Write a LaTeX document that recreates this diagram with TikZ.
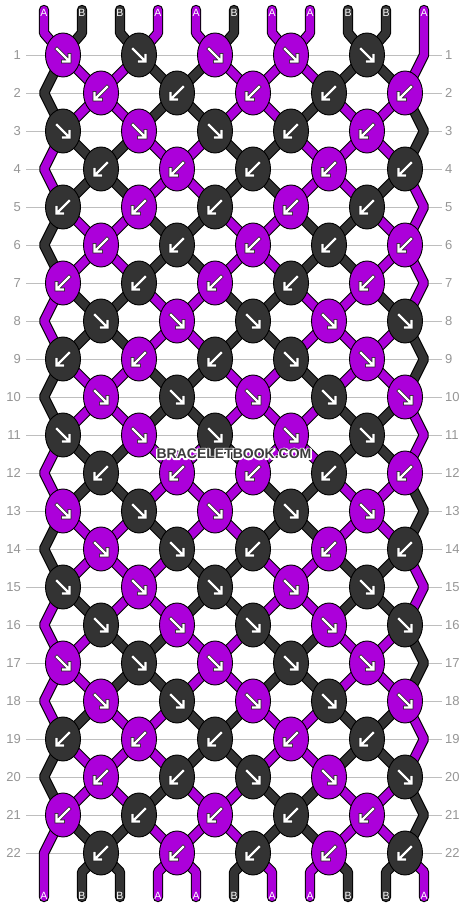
\documentclass[tikz,border=0pt]{standalone}
\usepackage{fontspec}
\setmainfont{Liberation Sans}
\usetikzlibrary{shapes.geometric}
\definecolor{kA}{RGB}{172,0,218}
\definecolor{kB}{RGB}{51,51,51}
\definecolor{lblgray}{RGB}{150,150,150}
\definecolor{rulegray}{RGB}{190,190,190}
\definecolor{wmdark}{RGB}{60,60,60}
\tikzset{
  strandout/.style={line width=10.4pt, draw=black, line join=bevel, line cap=round},
  strandfill/.style={line width=8.2pt, line join=bevel, line cap=round},
  knot/.style={ellipse, draw=black, line width=0.9pt, minimum width=35pt, minimum height=44pt, inner sep=0pt},
  arrout/.style={draw=black!85, line width=3.8pt, line cap=rect, line join=miter},
  arrin/.style={draw=white, line width=2.3pt, line cap=rect, line join=miter},
  arrR/.pic={
    \draw[arrout] (-6,-6) -- (6,6) (0,6.5) -- (6.5,6.5) -- (6.5,0);
    \draw[arrin] (-6,-6) -- (6,6) (0,6.5) -- (6.5,6.5) -- (6.5,0);
  },
  arrL/.pic={
    \draw[arrout] (6,-6) -- (-6,6) (0,6.5) -- (-6.5,6.5) -- (-6.5,0);
    \draw[arrin] (6,-6) -- (-6,6) (0,6.5) -- (-6.5,6.5) -- (-6.5,0);
  },
  rowlab/.style={text=lblgray, font=\fontsize{13}{13}\selectfont, inner sep=0pt},
  endlab/.style={text=white, font=\fontsize{10.5}{10.5}\selectfont, inner sep=0pt},
  rowrule/.style={draw=rulegray, line width=1pt},
  wmtext/.style={text=wmdark, font=\fontsize{14}{14}\selectfont\bfseries, inner sep=0pt}
}
\begin{document}
\begin{tikzpicture}[x=1pt,y=-1pt,
  declare function={kx(\t)=(\t<10)*(63+38*\t)+(\t==10)*424+(\t>10)*(\t<21)*(823-38*\t)+(\t==21)*44;}]
\useasboundingbox (0,0) rectangle (468,908);
\fill[white] (0,0) rectangle (468,908);
% row rules and numbers
\foreach \r in {1,...,22} {
  \pgfmathsetmacro\ry{55+38*(\r-1)}
  \draw[rowrule] (26,\ry) -- (442,\ry);
  \node[rowlab, anchor=east] (ll\r) at (21,\ry) {\r};
  \node[rowlab, anchor=west] (lr\r) at (445,\ry) {\r};
}
% strand outlines
\foreach \j/\cl in {1/A,2/B,3/B,4/A,5/A,6/B,7/A,8/A,9/B,10/B,11/A} {
  \pgfmathsetmacro\xj{44+38*(\j-1)}
  \pgfmathtruncatemacro\tz{mod(\j,2)*(\j-1)+(1-mod(\j,2))*(22-\j)}
  \draw[strandout] (\xj,10) -- (\xj,33)
    \foreach \r in {1,...,22} { -- ({kx(mod(\tz+\r-1,22))},{55+38*(\r-1)}) }
    -- (\xj,872) -- (\xj,897);
}
% strand fills
\foreach \j/\cl in {1/A,2/B,3/B,4/A,5/A,6/B,7/A,8/A,9/B,10/B,11/A} {
  \pgfmathsetmacro\xj{44+38*(\j-1)}
  \pgfmathtruncatemacro\tz{mod(\j,2)*(\j-1)+(1-mod(\j,2))*(22-\j)}
  \draw[strandfill, draw=k\cl] (\xj,10) -- (\xj,33)
    \foreach \r in {1,...,22} { -- ({kx(mod(\tz+\r-1,22))},{55+38*(\r-1)}) }
    -- (\xj,872) -- (\xj,897);
  \node[endlab] (top\j) at (\xj,12.5) {\cl};
  \node[endlab] (bot\j) at (\xj,896) {\cl};
}
% knots
\foreach \r/\ks in {
  1/{A/R,B/R,A/R,A/R,B/R},
  2/{A/L,B/L,A/L,B/L,A/L},
  3/{B/R,A/R,B/R,B/L,A/L},
  4/{B/L,A/L,B/L,A/L,B/L},
  5/{B/L,A/L,B/L,A/L,B/L},
  6/{A/L,B/L,A/L,B/L,A/L},
  7/{A/L,B/L,A/L,B/L,A/L},
  8/{B/R,A/R,B/R,A/R,B/R},
  9/{B/L,A/L,B/L,B/R,A/R},
  10/{A/R,B/R,A/R,B/R,A/R},
  11/{B/R,A/R,B/R,A/R,B/R},
  12/{B/L,A/L,A/L,B/L,A/L},
  13/{A/R,B/R,A/R,B/R,A/R},
  14/{A/R,B/R,B/L,A/L,B/L},
  15/{B/R,A/R,B/R,A/R,B/R},
  16/{B/R,A/R,B/R,A/R,B/R},
  17/{A/R,B/R,A/R,B/R,A/R},
  18/{A/R,B/R,A/R,B/R,A/R},
  19/{B/L,A/L,B/L,A/L,B/L},
  20/{A/L,B/L,B/R,A/R,B/R},
  21/{A/L,B/L,A/L,B/L,A/L},
  22/{B/L,A/L,B/L,A/L,B/L}} {
  \foreach \cl/\d [count=\c] in \ks {
    \pgfmathsetmacro\kxx{63+38*(1-mod(\r,2))+76*(\c-1)}
    \pgfmathsetmacro\ky{55+38*(\r-1)}
    \node[knot, fill=k\cl] (k-\r-\c) at (\kxx,\ky) {};
    \pic (a-\r-\c) at (k-\r-\c.center) {arr\d};
  }
}
% watermark: white stroked outline under dark text
\node[wmtext] (wmh) at (234,454) {\special{pdf:literal direct 1 Tr 2.8 w 1 j 1 1 1 RG}BRACELETBOOK.COM\special{pdf:literal direct 0 Tr}};
\node[wmtext] (wm) at (234,454) {BRACELETBOOK.COM};
\end{tikzpicture}
\end{document}
